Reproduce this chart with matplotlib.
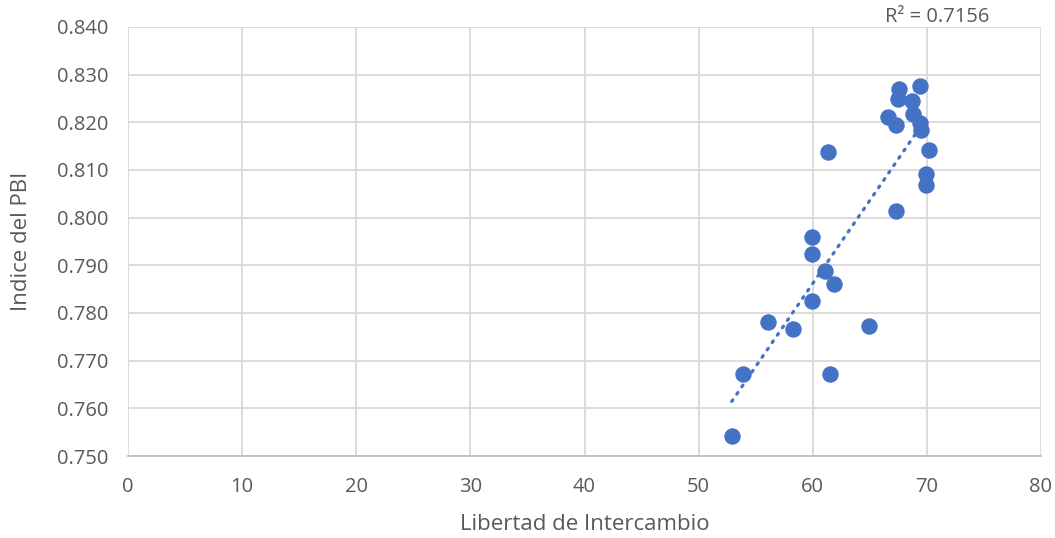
import numpy as np
import matplotlib
matplotlib.use("Agg")
import matplotlib.pyplot as plt

x_vals = [67.6, 69.4, 67.5, 68.7, 68.8, 66.6, 67.3, 69.4, 69.5, 70.2, 61.3, 69.9, 69.9, 67.3,
          59.9, 59.9, 61.1, 61.9, 59.9, 56.1, 58.3, 64.9, 53.9, 61.5, 52.9]
y_vals = [0.8270, 0.8276, 0.8249, 0.8245, 0.8217, 0.8211, 0.8194, 0.8198, 0.8184, 0.8142, 0.8138,
          0.8092, 0.8069, 0.8013, 0.7960, 0.7924, 0.7888, 0.7860, 0.7826, 0.7782, 0.7766, 0.7772,
          0.7672, 0.7672, 0.7542]
r2_label = "R² = 0.7156"
x_ticks = [0, 10, 20, 30, 40, 50, 60, 70, 80]
y_ticks = [0.750, 0.760, 0.770, 0.780, 0.790, 0.800, 0.810, 0.820, 0.830, 0.840]

plt.rcParams['font.family'] = ['Open Sans', 'DejaVu Sans']
blue = '#4472C4'
grey_txt = '#595959'

fig = plt.figure(figsize=(10.55, 5.38), dpi=100)
ax = fig.add_axes([128/1055, 82/538, (1041-128)/1055, (456-27)/538])

x = np.array(x_vals)
y = np.array(y_vals)
ax.scatter(x, y, s=140, color=blue, zorder=3, linewidths=0)

m, b = np.polyfit(x, y, 1)
xl = np.array([x.min(), x.max()])
ax.plot(xl, m*xl + b, color=blue, lw=2.3, linestyle=(0, (0.6, 2.2)),
        dash_capstyle='round', zorder=4)

ax.set_xlim(0, 80)
ax.set_ylim(0.750, 0.840)
ax.set_xticks(x_ticks)
ax.set_yticks(y_ticks)
ax.set_yticklabels([f"{t:.3f}" for t in y_ticks])
ax.grid(True, color='#D9D9D9', lw=1.3, zorder=0)
ax.set_axisbelow(True)
for s in ['top', 'right', 'left']:
    ax.spines[s].set_visible(False)
ax.spines['bottom'].set_color('#BFBFBF')
ax.spines['bottom'].set_linewidth(1.3)
ax.tick_params(axis='both', length=0, labelsize=14.5, labelcolor=grey_txt)
ax.tick_params(axis='x', pad=15)
ax.tick_params(axis='y', pad=14)

ax.set_xlabel("Libertad de Intercambio", fontsize=16, color=grey_txt, va='center')
ax.xaxis.set_label_coords(0.5, (456-525)/429)
ax.set_ylabel("Indice del PBI", fontsize=16, color=grey_txt, va='center')
ax.yaxis.set_label_coords((22-128)/913, 0.5)

ax.text(70.9, 0.8421, r2_label, fontsize=14.5, color=grey_txt, ha='center', va='center',
        clip_on=False)

fig.savefig("out.png", dpi=100)
